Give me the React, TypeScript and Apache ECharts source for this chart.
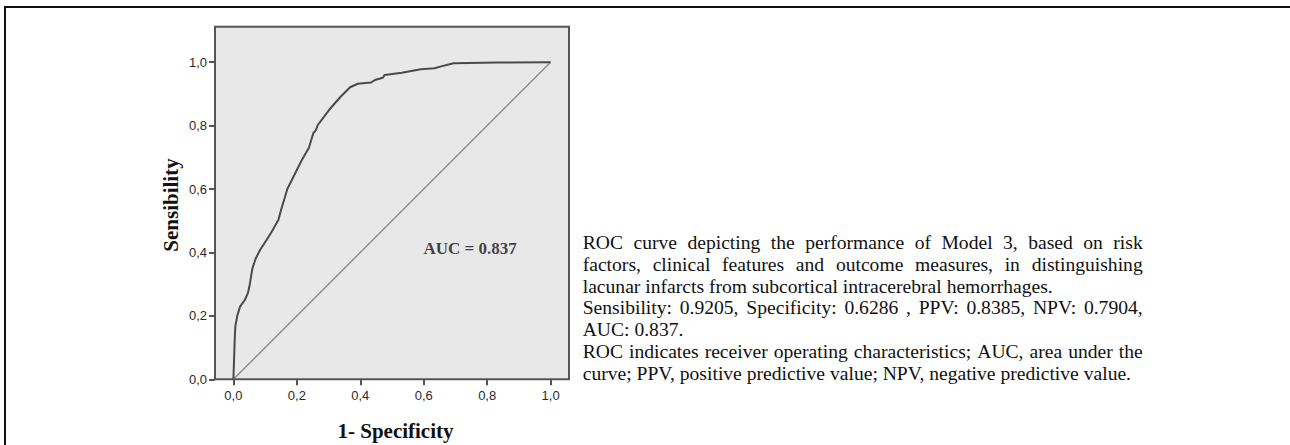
import React, { useEffect, useRef } from 'react';
import * as echarts from 'echarts';

// ROC curve points (1 - specificity, sensibility)
const ROC_X = [0, 0.002, 0.004, 0.006, 0.012, 0.021, 0.036, 0.045, 0.05, 0.055, 0.06, 0.07, 0.084, 0.105, 0.124, 0.142, 0.152, 0.16, 0.17, 0.185, 0.2, 0.215, 0.238, 0.252, 0.26, 0.266, 0.302, 0.338, 0.368, 0.392, 0.434, 0.446, 0.471, 0.477, 0.531, 0.591, 0.634, 0.652, 0.694, 0.832, 1.0];
const ROC_Y = [0, 0.06, 0.12, 0.166, 0.2, 0.229, 0.25, 0.27, 0.29, 0.32, 0.35, 0.38, 0.408, 0.44, 0.471, 0.503, 0.54, 0.566, 0.6, 0.63, 0.66, 0.69, 0.73, 0.776, 0.786, 0.802, 0.85, 0.891, 0.921, 0.932, 0.936, 0.944, 0.951, 0.96, 0.967, 0.978, 0.981, 0.986, 0.997, 0.999, 1.0];
const DIAG_X = [0, 1];
const DIAG_Y = [0, 1];

const X_TICKS = [0, 0.2, 0.4, 0.6, 0.8, 1.0];
const Y_TICKS = [0, 0.2, 0.4, 0.6, 0.8, 1.0];

const AUC_LABEL = 'AUC = 0.837';
const AUC_POS = [0.746, 0.411];

const X_TITLE = '1- Specificity';
const Y_TITLE = 'Sensibility';

const CAPTION_LINES = [
  'ROC curve depicting the performance of Model 3, based on risk',
  'factors, clinical features and outcome measures, in distinguishing',
  'lacunar infarcts from subcortical intracerebral hemorrhages.',
  'Sensibility: 0.9205, Specificity: 0.6286 , PPV: 0.8385, NPV: 0.7904,',
  'AUC: 0.837.',
  'ROC indicates receiver operating characteristics; AUC, area under the',
  'curve; PPV, positive predictive value; NPV, negative predictive value.',
];
const CAPTION_JUSTIFY = [true, true, false, true, false, true, false];

const fmt = (v: number) => v.toFixed(1).replace('.', ',');

export default function App() {
  const ref = useRef<HTMLDivElement>(null);

  useEffect(() => {
    if (!ref.current) return;
    const chart = echarts.init(ref.current, undefined, { renderer: 'svg' });

    const serif = '"Liberation Serif", "Times New Roman", serif';
    const capFont = '19.6px "Liberation Serif", "Times New Roman", serif';
    const canvas = document.createElement('canvas');
    const ctx = canvas.getContext('2d') as CanvasRenderingContext2D;
    ctx.font = capFont;

    const capLeft = 582.7;
    const capWidth = 560;
    const capTop = 242.5;
    const capStep = 21.8;

    const graphics: any[] = [
      {
        type: 'polyline',
        shape: { points: [[5, 445], [5, 7], [1290, 7]] },
        style: { stroke: '#111', lineWidth: 2, fill: 'none' },
        z: 100,
      },
      {
        type: 'text',
        x: 171,
        y: 205,
        rotation: Math.PI / 2,
        style: {
          text: Y_TITLE,
          font: 'bold 21px ' + serif,
          fill: '#111',
          align: 'center',
          verticalAlign: 'middle',
          textAlign: 'center',
          textVerticalAlign: 'middle',
        },
      },
      {
        type: 'text',
        x: 395.5,
        y: 431,
        style: {
          text: X_TITLE,
          font: 'bold 21px ' + serif,
          fill: '#111',
          align: 'center',
          verticalAlign: 'middle',
          textAlign: 'center',
          textVerticalAlign: 'middle',
        },
      },
    ];

    CAPTION_LINES.forEach((line, i) => {
      const y = capTop + i * capStep;
      if (CAPTION_JUSTIFY[i]) {
        const words = line.split(' ');
        const widths = words.map((w) => ctx.measureText(w).width);
        const total = widths.reduce((a, b) => a + b, 0);
        const gap = (capWidth - total) / (words.length - 1);
        let x = capLeft;
        words.forEach((w, j) => {
          graphics.push({
            type: 'text',
            x,
            y,
            style: {
              text: w,
              font: capFont,
              fill: '#111',
              align: 'left',
              verticalAlign: 'middle',
              textAlign: 'left',
              textVerticalAlign: 'middle',
            },
          });
          x += widths[j] + gap;
        });
      } else {
        graphics.push({
          type: 'text',
          x: capLeft,
          y,
          style: {
            text: line,
            font: capFont,
            fill: '#111',
            align: 'left',
            verticalAlign: 'middle',
            textAlign: 'left',
            textVerticalAlign: 'middle',
          },
        });
      }
    });

    const tickLabel = {
      fontFamily: '"Liberation Sans", Arial, sans-serif',
      fontSize: 13,
      color: '#2a2a2a',
      formatter: fmt,
    };

    chart.setOption({
      animation: false,
      grid: {
        left: 215,
        top: 26.7,
        right: 721,
        bottom: 65.7,
        show: true,
        backgroundColor: '#e8e8e8',
        borderColor: '#555',
        borderWidth: 2,
      },
      xAxis: {
        type: 'value',
        min: -0.058,
        max: 1.058,
        axisLine: { show: false, onZero: false },
        axisTick: { show: true, length: 6, lineStyle: { color: '#555', width: 2 }, customValues: X_TICKS },
        axisLabel: { ...tickLabel, margin: 10, customValues: X_TICKS },
        splitLine: { show: false },
      },
      yAxis: {
        type: 'value',
        min: 0,
        max: 1.112,
        axisLine: { show: false, onZero: false },
        axisTick: { show: true, length: 6, lineStyle: { color: '#555', width: 2 }, customValues: Y_TICKS },
        axisLabel: { ...tickLabel, margin: 8, customValues: Y_TICKS },
        splitLine: { show: false },
      },
      series: [
        {
          type: 'line',
          data: DIAG_X.map((x, i) => [x, DIAG_Y[i]]),
          symbol: 'none',
          lineStyle: { color: '#8c8c8c', width: 1.4 },
          silent: true,
        },
        {
          type: 'line',
          data: ROC_X.map((x, i) => [x, ROC_Y[i]]),
          symbol: 'none',
          lineStyle: { color: '#4a4a4a', width: 2 },
          silent: true,
        },
        {
          type: 'scatter',
          data: [AUC_POS],
          symbolSize: 1,
          itemStyle: { color: 'rgba(0,0,0,0)' },
          silent: true,
          label: {
            show: true,
            position: 'inside',
            formatter: AUC_LABEL,
            fontFamily: serif,
            fontWeight: 'bold',
            fontSize: 17,
            color: '#111',
          },
        },
      ],
      graphic: graphics,
    });

    return () => chart.dispose();
  }, []);

  return (
    <div
      ref={ref}
      style={{ position: 'absolute', left: 0, top: 0, width: 1290, height: 445, background: '#fff' }}
    />
  );
}
